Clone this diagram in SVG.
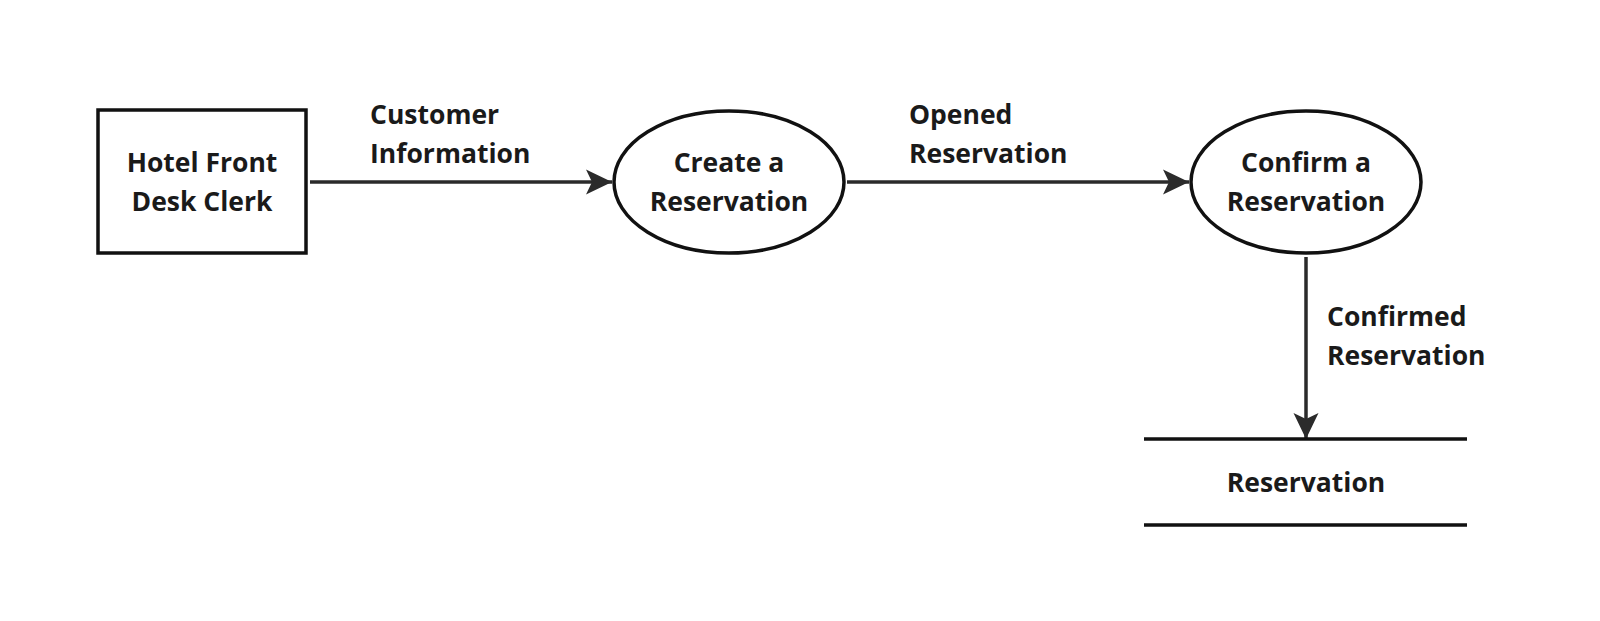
<svg xmlns="http://www.w3.org/2000/svg" width="1600" height="621" viewBox="0 0 1600 621">
<style>
.shape{fill:#fff;stroke:#111;stroke-width:3.5}
.flow{stroke:#2b2b2b;stroke-width:3.5;fill:none}
.t{font-family:"Open Sans","Noto Sans",sans-serif;font-weight:700;font-size:26.5px;fill:#1a1a1a}
.c{text-anchor:middle}
</style>
<defs>
<marker id="ah" markerWidth="28" markerHeight="28" viewBox="0 0 28 28" refX="26" refY="14" orient="auto" markerUnits="userSpaceOnUse">
<path d="M0,1.5 L26,14 L0,26.5 L6,14 Z" fill="#2b2b2b"/>
</marker>
</defs>
<rect width="1600" height="621" fill="#fff"/>
<g id="connectors">
<line class="flow" x1="310" y1="182" x2="612" y2="182" marker-end="url(#ah)"/>
<line class="flow" x1="847" y1="182" x2="1189" y2="182" marker-end="url(#ah)"/>
<line class="flow" x1="1306" y1="257" x2="1306" y2="439" marker-end="url(#ah)"/>
</g>
<g id="clerk">
<rect class="shape" x="98" y="110" width="208" height="143"/>
<text class="t c" x="202" y="172">Hotel Front</text>
<text class="t c" x="202" y="211">Desk Clerk</text>
</g>
<g id="create">
<ellipse class="shape" cx="729" cy="182" rx="115" ry="71"/>
<text class="t c" x="729" y="172">Create a</text>
<text class="t c" x="729" y="211">Reservation</text>
</g>
<g id="confirm">
<ellipse class="shape" cx="1306" cy="182" rx="115" ry="71"/>
<text class="t c" x="1306" y="172">Confirm a</text>
<text class="t c" x="1306" y="211">Reservation</text>
</g>
<g id="store">
<line class="shape" x1="1144" y1="439" x2="1467" y2="439"/>
<line class="shape" x1="1144" y1="525" x2="1467" y2="525"/>
<text class="t c" x="1306" y="492">Reservation</text>
</g>
<g id="labels">
<text class="t" x="370" y="124">Customer</text>
<text class="t" x="370" y="163">Information</text>
<text class="t" x="909" y="124">Opened</text>
<text class="t" x="909" y="163">Reservation</text>
<text class="t" x="1327" y="326">Confirmed</text>
<text class="t" x="1327" y="365">Reservation</text>
</g>
</svg>
